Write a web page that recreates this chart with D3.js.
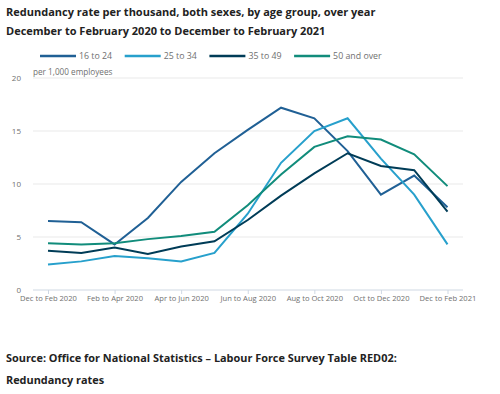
<!DOCTYPE html>
<html>
<head>
<meta charset="utf-8">
<script src="https://cdn.jsdelivr.net/npm/d3@7"></script>
<style>
  body { margin: 0; background: #fff; font-family: "Open Sans", sans-serif; }
</style>
</head>
<body>
<div id="vis"></div>
<script>
// periods, one every rolling quarter
let periods = ["Dec to Feb 2020", "Jan to Mar 2020", "Feb to Apr 2020", "Mar to May 2020",
  "Apr to Jun 2020", "May to Jul 2020", "Jun to Aug 2020", "Jul to Sep 2020",
  "Aug to Oct 2020", "Sep to Nov 2020", "Oct to Dec 2020", "Nov to Jan 2021", "Dec to Feb 2021"];
let tickLabels = ["Dec to Feb 2020", "Feb to Apr 2020", "Apr to Jun 2020", "Jun to Aug 2020",
  "Aug to Oct 2020", "Oct to Dec 2020", "Dec to Feb 2021"];
let yTicks = [0, 5, 10, 15, 20];

let seriesNames = ["16 to 24", "25 to 34", "35 to 49", "50 and over"];
let age16to24 = [6.5, 6.4, 4.3, 6.8, 10.2, 12.9, 15.1, 17.2, 16.2, 13.1, 9.0, 10.8, 7.8];
let age25to34 = [2.4, 2.7, 3.2, 3.0, 2.7, 3.5, 7.2, 12.0, 15.0, 16.2, 12.4, 9.0, 4.3];
let age35to49 = [3.7, 3.5, 4.0, 3.4, 4.1, 4.6, 6.6, 8.9, 11.0, 12.9, 11.7, 11.3, 7.4];
let age50plus = [4.4, 4.3, 4.4, 4.8, 5.1, 5.5, 8.0, 10.9, 13.5, 14.5, 14.2, 12.8, 9.8];
let colors = ["#206095", "#27a0cc", "#003c57", "#118c7b"];

let allSeries = [age16to24, age25to34, age35to49, age50plus];

let w = 500, h = 394;
let svg = d3.select("#vis").append("svg")
  .attr("width", w)
  .attr("height", h);

// titles
svg.append("text").attr("x", 6).attr("y", 16)
  .attr("font-size", 11).attr("font-weight", "bold").attr("fill", "#222")
  .text("Redundancy rate per thousand, both sexes, by age group, over year");
svg.append("text").attr("x", 6).attr("y", 35)
  .attr("font-size", 11).attr("font-weight", "bold").attr("fill", "#222")
  .text("December to February 2020 to December to February 2021");

let x = d3.scalePoint().domain(periods).range([48, 447.5]);
let y = d3.scaleLinear().domain([0, 20]).range([290, 78]);

// gridlines
svg.append("g").selectAll("line")
  .data(yTicks.filter(d => d > 0))
  .enter().append("line")
  .attr("x1", 33).attr("x2", 463)
  .attr("y1", d => y(d)).attr("y2", d => y(d))
  .attr("stroke", "#e9e9e9").attr("stroke-width", 1);

// y labels
svg.append("g").selectAll("text")
  .data(yTicks)
  .enter().append("text")
  .attr("x", 21).attr("y", d => y(d) + 3)
  .attr("text-anchor", "end")
  .attr("font-size", 8).attr("fill", "#707070")
  .text(d => d);

svg.append("text").attr("x", 33).attr("y", 75)
  .attr("font-size", 8.2).attr("fill", "#707070")
  .text("per 1,000 employees");

// x axis
let xAxis = d3.axisBottom(x)
  .tickValues(tickLabels)
  .tickSize(4)
  .tickSizeOuter(0);
let gx = svg.append("g")
  .attr("transform", "translate(0," + y(0) + ")")
  .call(xAxis);
gx.select(".domain").remove();
gx.insert("line", ":first-child")
  .attr("x1", 33).attr("x2", 463)
  .attr("stroke", "#cfd8e3");
gx.selectAll(".tick line").attr("stroke", "#cfd8e3");
gx.selectAll(".tick text")
  .attr("font-family", "Open Sans")
  .attr("font-size", 7.6)
  .attr("fill", "#707070")
  .attr("dy", "0.9em")
  .attr("y", 4);

// lines
let line = d3.line()
  .x((d, i) => x(periods[i]))
  .y(d => y(d));

svg.append("g").selectAll("path")
  .data(allSeries)
  .enter().append("path")
  .attr("d", d => line(d))
  .attr("fill", "none")
  .attr("stroke", (d, i) => colors[i])
  .attr("stroke-width", 2);

// legend
let legend = svg.append("g").selectAll("g")
  .data(seriesNames)
  .enter().append("g")
  .attr("transform", (d, i) => "translate(" + (40 + i * 84.7) + ",56)");
legend.append("line")
  .attr("x1", 0).attr("x2", 36)
  .attr("stroke", (d, i) => colors[i])
  .attr("stroke-width", 2.5);
legend.append("text")
  .attr("x", 39).attr("y", 3)
  .attr("font-size", 8.8).attr("fill", "#707070")
  .text(d => d);

// source
svg.append("text").attr("x", 6).attr("y", 362)
  .attr("font-size", 10.9).attr("font-weight", "bold").attr("fill", "#222")
  .text("Source: Office for National Statistics \u2013 Labour Force Survey Table RED02:");
svg.append("text").attr("x", 6).attr("y", 384)
  .attr("font-size", 10.9).attr("font-weight", "bold").attr("fill", "#222")
  .text("Redundancy rates");
</script>
</body>
</html>
